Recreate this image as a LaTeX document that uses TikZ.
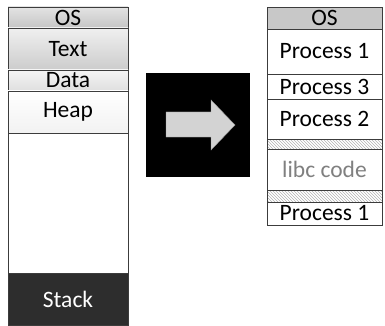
\documentclass[tikz,border=0pt]{standalone}
\usepackage{fontspec}
\setmainfont{Carlito}
\usetikzlibrary{positioning, patterns}
\definecolor{segline}{RGB}{60,60,60}
\definecolor{stackgray}{RGB}{45,45,45}
\definecolor{osgray}{RGB}{200,200,200}
\definecolor{arrowgray}{RGB}{211,211,211}
\definecolor{libcgray}{RGB}{128,128,128}

\begin{document}
\begin{tikzpicture}[
    x=1pt, y=-1pt,
    seg/.style={draw=segline, line width=0.8pt, inner sep=0pt, outer sep=0pt, minimum width=120pt, font=\fontsize{23.5}{26}\selectfont},
    pseg/.style={seg, minimum width=115pt, fill=white},
    hatch/.style={pseg, pattern=north west lines, pattern color=gray!60}
]
\useasboundingbox (0,0) rectangle (385,326);

% address space of one process
\node[seg, minimum height=21pt, top color=gray!22, bottom color=gray!45, anchor=north west] (os) at (8,7) {OS};
\node[seg, minimum height=42pt, top color=gray!12, bottom color=gray!40, below=0pt of os] (text) {Text};
\node[seg, minimum height=21pt, top color=gray!8, bottom color=gray!25, below=0pt of text] (data) {Data};
\node[seg, minimum height=42pt, top color=white, bottom color=gray!10, below=0pt of data] (heap) {Heap};
\node[seg, minimum height=140pt, fill=white, below=0pt of heap] (free) {};
\node[seg, minimum height=52pt, fill=stackgray, text=white, below=0pt of free] (stack) {Stack};

% arrow box
\node[fill=black, minimum size=104pt, inner sep=0pt] (box) at (198,125) {};
\filldraw[fill=arrowgray, draw=gray!80, line width=0.4pt]
    (166,112) -- (211,112) -- (211,100) -- (235,125) -- (211,150) -- (211,137) -- (166,137) -- cycle;

% physical memory
\node[pseg, minimum height=22pt, fill=osgray, anchor=north west] (os2) at (267,7) {OS};
\node[pseg, minimum height=45pt, below=0pt of os2] (proc1) {Process 1};
\node[pseg, minimum height=25pt, below=0pt of proc1] (proc3) {Process 3};
\node[pseg, minimum height=40pt, below=0pt of proc3] (proc2) {Process 2};
\node[hatch, minimum height=10pt, below=0pt of proc2] (gap1) {};
\node[pseg, minimum height=41pt, text=libcgray, below=0pt of gap1] (libc) {libc code};
\node[hatch, minimum height=12pt, below=0pt of libc] (gap2) {};
\node[pseg, minimum height=23pt, below=0pt of gap2] (proc1b) {Process 1};

\end{tikzpicture}
\end{document}
